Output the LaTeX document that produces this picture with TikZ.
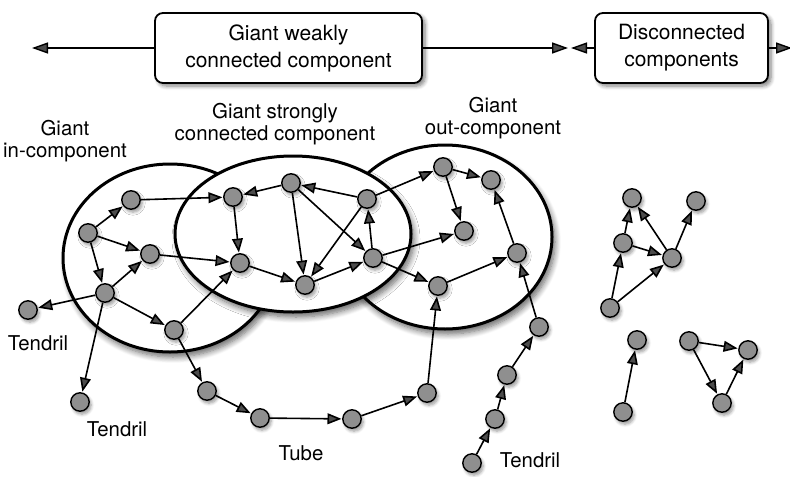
\documentclass[tikz,border=0pt]{standalone}
\usepackage{fontspec}
\setmainfont{TeX Gyre Heros}
\usetikzlibrary{arrows.meta,shadows.blur}
\definecolor{VertexClr}{gray}{0.56}

\begin{document}
\begin{tikzpicture}[x=0.5pt,y=-0.5pt,
  vertex/.style={circle,draw=black,line width=0.7pt,fill=VertexClr,minimum size=9.2pt,inner sep=0pt,
    blur shadow={shadow blur steps=6,shadow xshift=1pt,shadow yshift=-1.5pt,shadow blur radius=1.5pt,shadow opacity=40}},
  edge/.style={line width=0.8pt,-{Triangle[length=7pt,width=5.4pt]},shorten >=0.3pt},
  bigedge/.style={line width=0.7pt,-{Triangle[length=8pt,width=5.5pt]}},
  region/.style={fill=white,draw=black,line width=1.5pt,
    blur shadow={shadow blur steps=8,shadow xshift=1.5pt,shadow yshift=-2.5pt,shadow blur radius=3pt,shadow opacity=60}},
  box/.style={draw=black,fill=white,line width=0.9pt,rounded corners=4pt,minimum height=35pt,
    align=center,font=\fontsize{10.5}{13.5}\selectfont,
    blur shadow={shadow blur steps=6,shadow xshift=1.5pt,shadow yshift=-1.5pt,shadow blur radius=2pt,shadow opacity=50}},
  lbl/.style={align=center,font=\fontsize{10.2}{11.3}\selectfont,inner sep=0pt}]
\useasboundingbox (0,0) rectangle (790,476);

\path[region] (170,258) ellipse [x radius=107,y radius=94];
\path[region] (445,237) ellipse [x radius=107,y radius=92];
\path[region] (293,234) ellipse [x radius=118,y radius=78];

\node[box,minimum width=133.5pt] (gwcc) at (288.5,48) {Giant weakly\\connected component};
\node[box,minimum width=86.5pt] (disc) at (681.5,48) {Disconnected\\components};
\coordinate (wleft) at (32,48);
\coordinate (wright) at (568,48);
\coordinate (dleft) at (571,48);
\coordinate (dright) at (792,48);
\draw[bigedge] (gwcc.west) -- (wleft);
\draw[bigedge] (gwcc.east) -- (wright);
\draw[bigedge] (disc.west) -- (dleft);
\draw[bigedge] (disc.east) -- (dright);

\node[lbl] (lin) at (65,141) {Giant\\in-component};
\node[lbl] (lscc) at (275,124) {Giant strongly\\connected component};
\node[lbl] (lout) at (493,118) {Giant\\out-component};
\node[lbl] (ltnd1) at (38,343) {Tendril};
\node[lbl] (ltnd2) at (117,429) {Tendril};
\node[lbl] (ltube) at (301,453) {Tube};
\node[lbl] (ltnd3) at (530,460) {Tendril};

\node[vertex] (in1) at (131,200) {};
\node[vertex] (in2) at (88,233) {};
\node[vertex] (in3) at (150,254) {};
\node[vertex] (in4) at (105,293) {};
\node[vertex] (in5) at (174,330) {};
\node[vertex] (tnd1) at (28,310) {};
\node[vertex] (tnd2) at (80,402) {};

\node[vertex] (scc1) at (233,197) {};
\node[vertex] (scc2) at (240,263) {};
\node[vertex] (scc3) at (291,183) {};
\node[vertex] (scc4) at (367,199) {};
\node[vertex] (scc5) at (305,285) {};
\node[vertex] (scc6) at (373,258) {};

\node[vertex] (out1) at (443,167) {};
\node[vertex] (out2) at (491,180) {};
\node[vertex] (out3) at (464,231) {};
\node[vertex] (out4) at (517,253) {};
\node[vertex] (out5) at (438,286) {};

\node[vertex] (tube1) at (207,391) {};
\node[vertex] (tube2) at (260,418) {};
\node[vertex] (tube3) at (352,419) {};
\node[vertex] (tube4) at (427,393) {};

\node[vertex] (tnd3a) at (472,463) {};
\node[vertex] (tnd3b) at (495,419) {};
\node[vertex] (tnd3c) at (507,375) {};
\node[vertex] (tnd3d) at (539,327) {};

\node[vertex] (dc1) at (632,198) {};
\node[vertex] (dc2) at (696,201) {};
\node[vertex] (dc3) at (623,243) {};
\node[vertex] (dc4) at (672,258) {};
\node[vertex] (dc5) at (610,308) {};
\node[vertex] (dc6) at (637,340) {};
\node[vertex] (dc7) at (623,412) {};
\node[vertex] (dc8) at (689,341) {};
\node[vertex] (dc9) at (748,350) {};
\node[vertex] (dc10) at (722,403) {};

\foreach \a/\b in {in2/in1,in2/in3,in2/in4,in4/in3,in4/tnd1,in4/tnd2,in4/in5,in1/scc1,in3/scc2,in5/scc2,
  in5/tube1,tube1/tube2,tube2/tube3,tube3/tube4,tube4/out5,
  scc3/scc1,scc4/scc3,scc1/scc2,scc3/scc5,scc3/scc6,scc4/scc5,scc2/scc5,scc5/scc6,scc6/scc4,
  scc4/out1,scc6/out3,scc6/out5,out1/out2,out1/out3,out5/out4,out4/out2,
  tnd3a/tnd3b,tnd3b/tnd3c,tnd3c/tnd3d,tnd3d/out4,
  dc3/dc1,dc4/dc1,dc4/dc2,dc3/dc4,dc5/dc3,dc5/dc4,dc7/dc6,dc8/dc9,dc8/dc10,dc10/dc9}
  \draw[edge] (\a) -- (\b);

\end{tikzpicture}
\end{document}
